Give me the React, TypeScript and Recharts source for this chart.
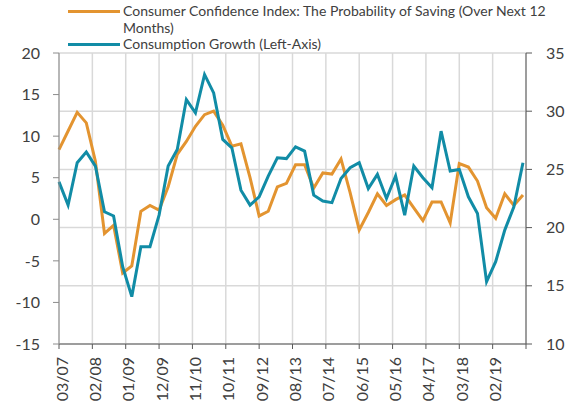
import { LineChart, Line, XAxis, YAxis, CartesianGrid } from "recharts";

const FONT = "Lato, 'Open Sans', sans-serif";
const ORANGE = "#E39430";
const TEAL = "#118CA6";
const TEXT = "#404040";

// one label every 11 months, starting at the first observation
const tickLabels = [
  "03/07", "02/08", "01/09", "12/09", "11/10", "10/11", "09/12",
  "08/13", "07/14", "06/15", "05/16", "04/17", "03/18", "02/19",
];

// quarterly, 03/07 .. 12/19 (left axis)
const consumptionGrowth = [
  4.5, 1.7, 6.8, 8.1, 6.4, 0.9, 0.4, -5.7, -9.3, -3.3,
  -3.3, 0.5, 6.4, 8.4, 14.4, 12.8, 17.4, 15.2, 9.6, 8.6,
  3.5, 1.7, 2.7, 5.2, 7.4, 7.3, 8.7, 8.2, 2.9, 2.2,
  2.0, 4.9, 6.2, 6.8, 3.7, 5.4, 2.5, 5.2, 0.5, 6.4,
  5.0, 3.8, 10.6, 5.8, 6.0, 2.7, 0.7, -7.5, -5.1, -1.3,
  1.5, 6.8,
];

// quarterly, 03/07 .. 12/19 (right axis)
const savingProbability = [
  26.7, 28.3, 29.9, 29.0, 25.7, 19.5, 20.2, 16.1, 16.7, 21.4,
  21.9, 21.5, 23.5, 26.3, 27.4, 28.7, 29.7, 30.0, 28.8, 27.0,
  27.2, 24.3, 21.0, 21.4, 23.5, 23.8, 25.4, 25.4, 23.4, 24.7,
  24.6, 25.9, 23.0, 19.8, 21.3, 22.9, 21.9, 22.4, 22.8, 21.7,
  20.6, 22.2, 22.2, 20.4, 25.5, 25.2, 24.0, 21.7, 20.8, 22.9,
  21.9, 22.8,
];

const leftTicks = [-15, -10, -5, 0, 5, 10, 15, 20];
const rightTicks = [10, 15, 20, 25, 30, 35];

// x axis counts months from 03/07
const chartData = consumptionGrowth.map((growth, i) => ({
  month: i * 3,
  growth,
  saving: savingProbability[i],
}));
const monthTicks = [...tickLabels.map((_, k) => k * 11), tickLabels.length * 11];

function MonthTick({ x, y, payload }: any) {
  const label = tickLabels[payload.value / 11] ?? "";
  return (
    <text
      x={x}
      y={y}
      dy={8.5}
      transform={`rotate(-90, ${x}, ${y})`}
      textAnchor="end"
      fill={TEXT}
      fontSize={16}
      fontFamily={FONT}
    >
      {label}
    </text>
  );
}

function LegendRow({ center, color, lines }: { center: number; color: string; lines: string[] }) {
  const lh = 16.5;
  return (
    <>
      <div
        style={{
          position: "absolute",
          left: 68,
          top: center - 1.5,
          width: 52,
          height: 3,
          background: color,
        }}
      />
      <div
        style={{
          position: "absolute",
          left: 123,
          top: center - lh / 2,
          fontFamily: FONT,
          fontSize: 14,
          lineHeight: `${lh}px`,
          color: TEXT,
          whiteSpace: "nowrap",
        }}
      >
        {lines.map((l) => (
          <div key={l}>{l}</div>
        ))}
      </div>
    </>
  );
}

export default function App() {
  const tickStyle = { fill: TEXT, fontSize: 16, fontFamily: FONT };
  return (
    <div style={{ position: "absolute", left: 0, top: 0, width: 574, height: 414 }}>
      <LineChart
        width={574}
        height={414}
        data={chartData}
        margin={{ top: 53, right: 0, bottom: 0, left: 0 }}
      >
        <CartesianGrid yAxisId="right" stroke="#d9d9d9" strokeWidth={1.5} />
        <XAxis
          dataKey="month"
          type="number"
          domain={[0, 154]}
          ticks={monthTicks}
          interval={0}
          height={70}
          tickSize={5}
          tickMargin={8}
          stroke="#595959"
          tick={<MonthTick />}
        />
        <YAxis
          yAxisId="left"
          domain={[-15, 20]}
          ticks={leftTicks}
          interval={0}
          width={59}
          tickSize={6}
          tickMargin={13}
          stroke="#8c8c8c"
          tick={tickStyle}
        />
        <YAxis
          yAxisId="right"
          orientation="right"
          domain={[10, 35]}
          ticks={rightTicks}
          interval={0}
          width={48}
          tickSize={6}
          tickMargin={14}
          stroke="#595959"
          tick={tickStyle}
        />
        <Line
          yAxisId="right"
          dataKey="saving"
          stroke={ORANGE}
          strokeWidth={3}
          dot={false}
          isAnimationActive={false}
        />
        <Line
          yAxisId="left"
          dataKey="growth"
          stroke={TEAL}
          strokeWidth={3}
          dot={false}
          isAnimationActive={false}
        />
      </LineChart>
      <LegendRow
        center={11.7}
        color={ORANGE}
        lines={["Consumer Confidence Index: The Probability of Saving (Over Next 12", "Months)"]}
      />
      <LegendRow center={44.7} color={TEAL} lines={["Consumption Growth (Left-Axis)"]} />
    </div>
  );
}
